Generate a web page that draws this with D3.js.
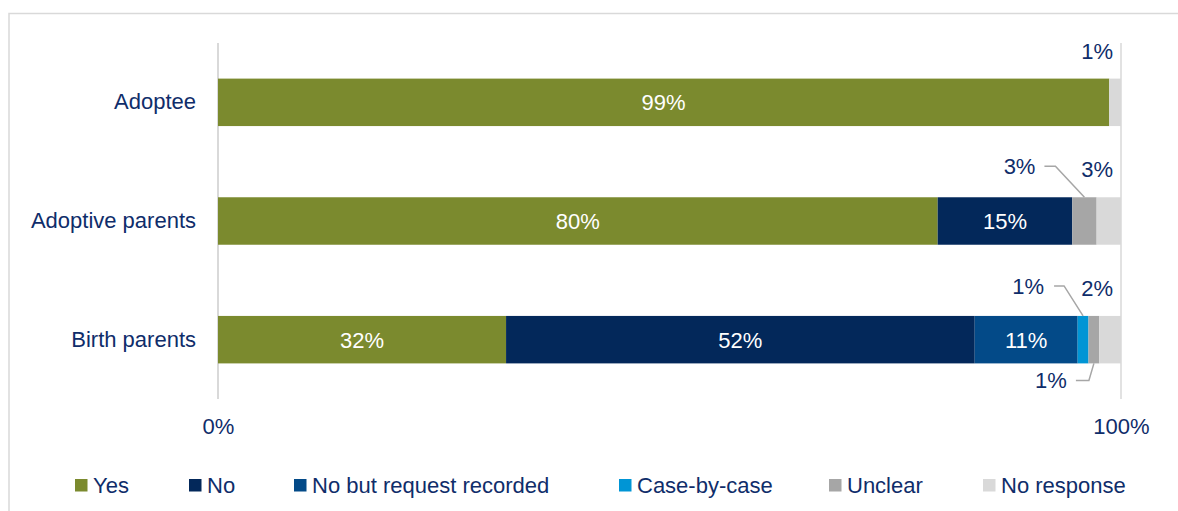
<!DOCTYPE html>
<html>
<head>
<meta charset="utf-8">
<script src="https://cdn.jsdelivr.net/npm/d3@7/dist/d3.min.js"></script>
<style>
  html, body { margin: 0; padding: 0; background: #fff; }
  svg { display: block; font-family: "Liberation Sans", Arial, sans-serif; }
</style>
</head>
<body>
<svg id="chart" width="1178" height="511"></svg>
<script>
// Response categories (rows) and answer series (stack order, left to right)
const categories = ["Adoptee", "Adoptive parents", "Birth parents"];
const seriesKeys = ["Yes", "No", "No but request recorded", "Case-by-case", "Unclear", "No response"];

// Share of respondents (%) per series, in category order
const yesValues        = [98.7, 79.7, 31.9];
const noValues         = [0, 14.9, 51.9];
const noRecordedValues = [0, 0, 11.4];
const caseByCaseValues = [0, 0, 1.2];
const unclearValues    = [0, 2.7, 1.2];
const noResponseValues = [1.3, 2.7, 2.4];

const axisTicks = [0, 100];
const axisTickLabels = ["0%", "100%"];

const seriesColors = ["#7b8a2e", "#03285a", "#034a88", "#0095d5", "#a6a6a6", "#d9d9d9"];
const textColor = "#0f2d6a";

const rows = categories.map((c, i) => ({
  category: c,
  "Yes": yesValues[i],
  "No": noValues[i],
  "No but request recorded": noRecordedValues[i],
  "Case-by-case": caseByCaseValues[i],
  "Unclear": unclearValues[i],
  "No response": noResponseValues[i]
}));

const svg = d3.select("#chart");
const fmt = v => Math.round(v) + "%";

// Outer frame
svg.append("path")
  .attr("d", "M9,520V13.5H1190")
  .attr("fill", "none")
  .attr("stroke", "#d9d9d9")
  .attr("stroke-width", 1.5);

const plot = { left: 218, right: 1121, top: 43, bottom: 399 };

const x = d3.scaleLinear().domain([0, 100]).range([plot.left, plot.right]);
const y = d3.scaleBand().domain(categories).range([plot.top, plot.bottom])
  .paddingInner(0.6).paddingOuter(0.3);
const color = d3.scaleOrdinal().domain(seriesKeys).range(seriesColors);

// Vertical gridlines at 0% and 100%
svg.append("g").selectAll("line").data(axisTicks).join("line")
  .attr("x1", d => x(d)).attr("x2", d => x(d))
  .attr("y1", plot.top).attr("y2", plot.bottom)
  .attr("stroke", "#d9d9d9")
  .attr("stroke-width", (d, i) => i === 0 ? 2 : 1.5);

// Category axis labels
const yAxis = svg.append("g")
  .attr("transform", `translate(${plot.left},0)`)
  .call(d3.axisLeft(y).tickSize(0).tickPadding(22));
yAxis.select(".domain").remove();
yAxis.selectAll("text")
  .attr("fill", textColor)
  .style("font-size", "22px")
  .style("font-family", "'Liberation Sans', Arial, sans-serif");

// Percentage axis labels
const xAxis = svg.append("g")
  .attr("transform", `translate(0,${plot.bottom})`)
  .call(d3.axisBottom(x).tickValues(axisTicks)
    .tickFormat((d, i) => axisTickLabels[i]).tickSize(0).tickPadding(19));
xAxis.select(".domain").remove();
xAxis.selectAll("text")
  .attr("fill", textColor)
  .style("font-size", "22px")
  .style("font-family", "'Liberation Sans', Arial, sans-serif");

// Stacked bars
const stacked = d3.stack().keys(seriesKeys)(rows);

const layers = svg.append("g").selectAll("g").data(stacked).join("g")
  .attr("fill", d => color(d.key));

layers.selectAll("rect").data(d => d.map(s => ({ key: d.key, s })))
  .join("rect")
  .attr("x", d => x(d.s[0]))
  .attr("y", d => y(d.s.data.category))
  .attr("width", d => x(d.s[1]) - x(d.s[0]))
  .attr("height", y.bandwidth());

// Values inside the wide segments
const insideKeys = ["Yes", "No", "No but request recorded"];
const insideLabels = [];
stacked.forEach(layer => {
  if (!insideKeys.includes(layer.key)) return;
  layer.forEach(s => {
    const v = s[1] - s[0];
    if (v > 0) insideLabels.push({ s, v });
  });
});
svg.append("g").selectAll("text").data(insideLabels).join("text")
  .attr("x", d => (x(d.s[0]) + x(d.s[1])) / 2)
  .attr("y", d => y(d.s.data.category) + y.bandwidth() / 2)
  .attr("dy", "0.36em")
  .attr("text-anchor", "middle")
  .attr("fill", "#fff")
  .style("font-size", "22px")
  .text(d => fmt(d.v));

const segment = (key, cat) => {
  const layer = stacked.find(l => l.key === key);
  return layer[categories.indexOf(cat)];
};

// "No response" values placed above the bar end
const noResp = stacked.find(l => l.key === "No response");
svg.append("g").selectAll("text").data(noResp).join("text")
  .attr("x", x(100) - 8)
  .attr("y", d => y(d.data.category) - 20)
  .attr("text-anchor", "end")
  .attr("fill", textColor)
  .style("font-size", "22px")
  .text(d => fmt(d[1] - d[0]));

// Leader-line callouts for the narrow segments
const callouts = [
  { cat: "Adoptive parents", key: "Unclear",      side: "above", elbowDx: -29, rise: 31, arm: 11, gap: 9 },
  { cat: "Birth parents",    key: "Case-by-case", side: "above", elbowDx: -19, rise: 30, arm: 10, gap: 10 },
  { cat: "Birth parents",    key: "Unclear",      side: "below", elbowDx: -5,  rise: 17, arm: 13, gap: 9 }
];

const cg = svg.append("g");
callouts.forEach(c => {
  const s = segment(c.key, c.cat);
  const cx = (x(s[0]) + x(s[1])) / 2;
  const top = y(c.cat);
  const edgeY = c.side === "above" ? top : top + y.bandwidth();
  const elbowY = c.side === "above" ? edgeY - c.rise : edgeY + c.rise;
  const ex = cx + c.elbowDx;
  const sx = ex - c.arm;
  cg.append("path")
    .attr("d", `M${cx},${edgeY}L${ex},${elbowY}H${sx}`)
    .attr("fill", "none")
    .attr("stroke", "#a6a6a6")
    .attr("stroke-width", 1.5);
  cg.append("text")
    .attr("x", sx - c.gap)
    .attr("y", elbowY)
    .attr("dy", "0.36em")
    .attr("text-anchor", "end")
    .attr("fill", textColor)
    .style("font-size", "22px")
    .text(fmt(s[1] - s[0]));
});

// Legend
const legendX = [75, 189, 294, 619, 829, 983];
const legend = svg.append("g").selectAll("g").data(seriesKeys).join("g")
  .attr("transform", (d, i) => `translate(${legendX[i]},479)`);
legend.append("rect")
  .attr("width", 12.5).attr("height", 12.5)
  .attr("fill", d => color(d));
legend.append("text")
  .attr("x", 18).attr("y", 13.5)
  .attr("fill", textColor)
  .style("font-size", "22px")
  .text(d => d);
</script>
</body>
</html>
